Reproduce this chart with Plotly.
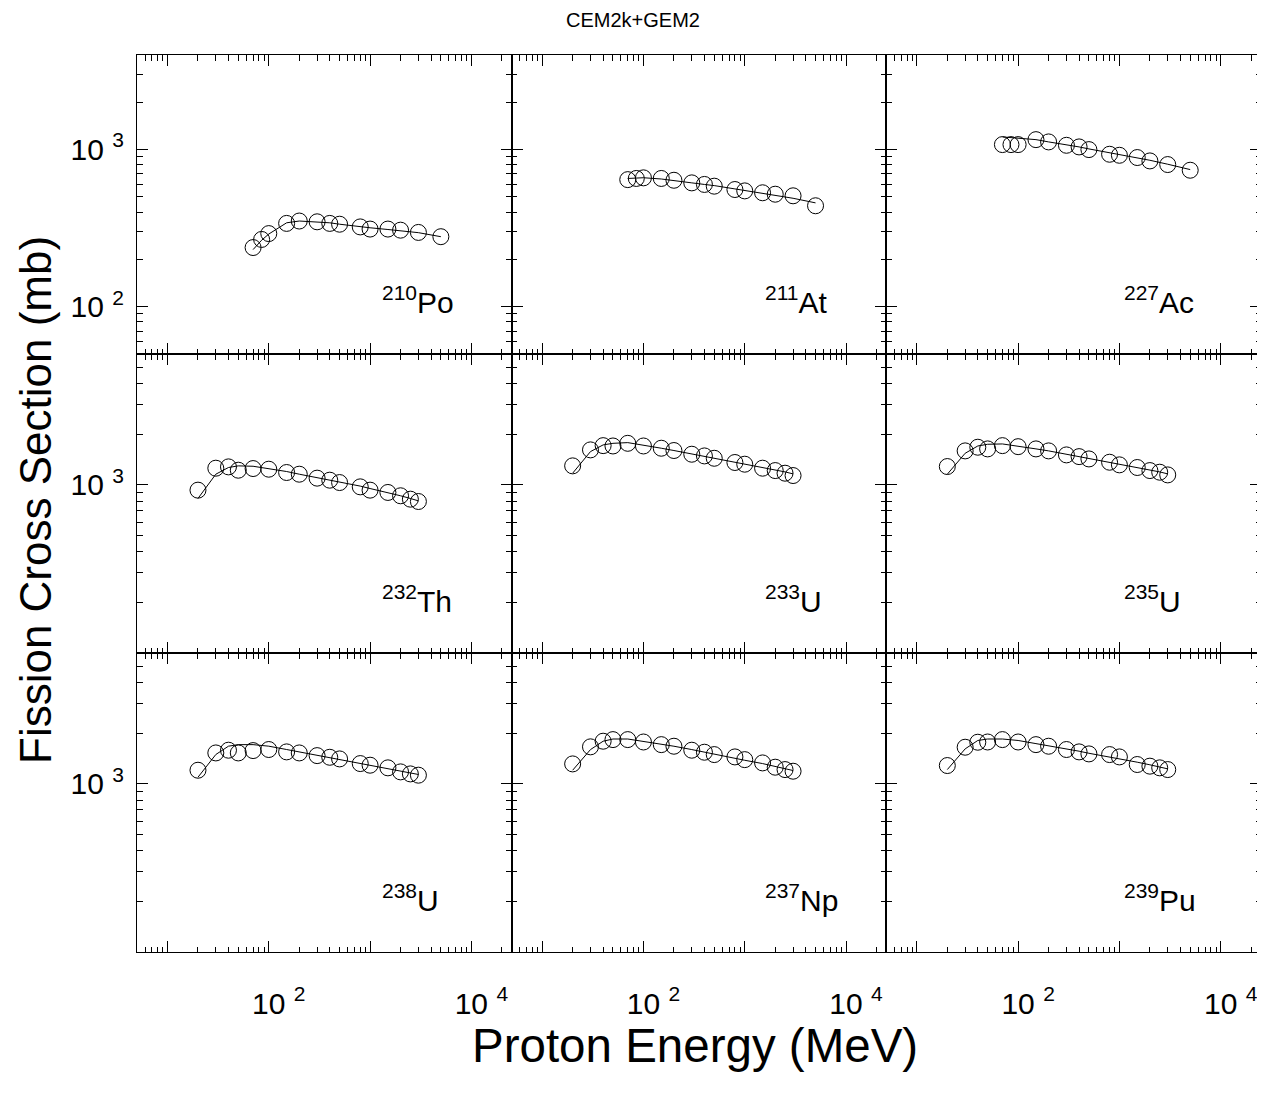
import math
import plotly.graph_objects as go

# ---------------- data ----------------
E_LIGHT = [70, 85, 100, 150, 200, 300, 400, 500, 800, 1000, 1500, 2000, 3000, 5000]
E_HEAVY = [20, 30, 40, 50, 70, 100, 150, 200, 300, 400, 500, 800, 1000, 1500, 2000, 2500, 3000]

po210_pts = [238, 268, 292, 339, 351, 347, 339, 335, 322, 312, 312, 307, 297, 279]
po210_line = [231, 265, 290, 342, 351, 347, 342, 335, 322, 318, 310, 304, 296, 279]

at211_pts = [644, 655, 661, 655, 638, 614, 600, 585, 557, 546, 531, 520, 508, 439]
at211_line = [655, 662, 662, 650, 632, 614, 600, 590, 562, 549, 526, 510, 490, 458]

ac227_pts = [1076, 1076, 1076, 1157, 1119, 1065, 1040, 1000, 934, 920, 890, 847, 803, 739]
ac227_line = [1204, 1195, 1186, 1157, 1119, 1076, 1040, 1010, 957, 929, 885, 855, 807, 746]

th232_pts = [930, 1256, 1279, 1222, 1250, 1239, 1184, 1157, 1096, 1066, 1032, 973, 930, 901, 861, 822, 796]
th232_line = [830, 1157, 1268, 1297, 1290, 1250, 1200, 1157, 1105, 1071, 1041, 983, 951, 901, 861, 830, 803]

u233_pts = [1297, 1614, 1711, 1703, 1766, 1703, 1651, 1600, 1521, 1486, 1439, 1358, 1327, 1256, 1216, 1173, 1136]
u233_line = [1173, 1577, 1728, 1766, 1783, 1728, 1651, 1600, 1527, 1480, 1439, 1369, 1332, 1273, 1228, 1194, 1162]

u235_pts = [1285, 1592, 1674, 1636, 1711, 1687, 1636, 1592, 1507, 1472, 1426, 1363, 1315, 1268, 1216, 1189, 1146]
u235_line = [1157, 1541, 1703, 1743, 1751, 1703, 1636, 1592, 1521, 1472, 1433, 1363, 1327, 1268, 1228, 1194, 1162]

u238_pts = [1205, 1527, 1585, 1527, 1577, 1600, 1549, 1527, 1472, 1439, 1407, 1320, 1291, 1245, 1178, 1146, 1126]
u238_line = [1095, 1494, 1675, 1711, 1711, 1675, 1600, 1549, 1479, 1439, 1394, 1332, 1291, 1233, 1189, 1162, 1137]

np237_pts = [1314, 1660, 1793, 1833, 1833, 1774, 1711, 1674, 1585, 1542, 1493, 1446, 1393, 1332, 1256, 1216, 1189]
np237_line = [1205, 1599, 1793, 1848, 1848, 1793, 1727, 1674, 1599, 1542, 1493, 1420, 1381, 1320, 1273, 1233, 1200]

pu239_pts = [1285, 1651, 1768, 1774, 1833, 1774, 1711, 1674, 1600, 1549, 1507, 1493, 1446, 1303, 1274, 1245, 1216]
pu239_line = [1216, 1614, 1811, 1848, 1848, 1811, 1735, 1687, 1614, 1564, 1520, 1446, 1407, 1345, 1298, 1262, 1228]

panel_labels = ["<sup>210</sup>Po", "<sup>211</sup>At", "<sup>227</sup>Ac",
                "<sup>232</sup>Th", "<sup>233</sup>U", "<sup>235</sup>U",
                "<sup>238</sup>U", "<sup>237</sup>Np", "<sup>239</sup>Pu"]

panels = [
    (E_LIGHT, po210_pts, po210_line),
    (E_LIGHT, at211_pts, at211_line),
    (E_LIGHT, ac227_pts, ac227_line),
    (E_HEAVY, th232_pts, th232_line),
    (E_HEAVY, u233_pts, u233_line),
    (E_HEAVY, u235_pts, u235_line),
    (E_HEAVY, u238_pts, u238_line),
    (E_HEAVY, np237_pts, np237_line),
    (E_HEAVY, pu239_pts, pu239_line),
]

X_RANGE = [5, 25000]
Y_RANGE_TOP = [50, 4000]
Y_RANGE_LOW = [100, 6000]

title_text = "CEM2k+GEM2"
x_title = "Proton Energy (MeV)"
y_title = "Fission Cross Section (mb)"

# ---------------- figure ----------------
FONT = "Liberation Sans, Arial, Helvetica, sans-serif"
W, H = 1257, 1093          # page body has an 8px margin
ML, MR, MT, MB = 129, 4, 47, 149
PW, PH = W - ML - MR, H - MT - MB

fig = go.Figure()

def minor_vals(lo, hi):
    vals = []
    d = 10 ** math.floor(math.log10(lo))
    while d <= hi:
        for k in range(2, 10):
            v = k * d
            if lo <= v <= hi:
                vals.append(v)
        d *= 10
    return vals

x_minor = minor_vals(X_RANGE[0], X_RANGE[1])
label_offsets = [243.5 / 374.7, 251 / 374.7, 236 / 374.7]

annotations = []
for i, (E, pts, line) in enumerate(panels):
    r, c = divmod(i, 3)
    n = i + 1
    xa = "x" if n == 1 else f"x{n}"
    ya = "y" if n == 1 else f"y{n}"
    fig.add_trace(go.Scatter(x=E, y=line, mode="lines", xaxis=xa, yaxis=ya,
                             line=dict(color="black", width=1), showlegend=False))
    fig.add_trace(go.Scatter(x=E, y=pts, mode="markers", xaxis=xa, yaxis=ya,
                             marker=dict(symbol="circle-open", size=16,
                                         line=dict(color="black", width=1), color="black"),
                             showlegend=False))

    yr = Y_RANGE_TOP if r == 0 else Y_RANGE_LOW
    y_major = [100, 1000] if r == 0 else [1000]
    y_minor = minor_vals(yr[0], yr[1])

    xaxis = dict(
        domain=[c / 3, (c + 1) / 3], anchor=ya, type="log",
        range=[math.log10(X_RANGE[0]), math.log10(X_RANGE[1])],
        showline=True, linecolor="black", linewidth=1, mirror="allticks",
        ticks="inside", ticklen=11, tickwidth=1, tickcolor="black",
        tickvals=[10, 100, 1000, 10000],
        ticktext=["", "10 <sup>2</sup>", "", "10 <sup>4</sup>"],
        showticklabels=(r == 2),
        tickfont=dict(family=FONT, size=30, color="black"),
        ticklabelstandoff=25, ticklabelshift=10,
        minor=dict(tickvals=x_minor, ticks="inside", ticklen=5.5,
                   tickwidth=1, tickcolor="black", showgrid=False),
        showgrid=False, zeroline=False, automargin=False,
    )
    yaxis = dict(
        domain=[(2 - r) / 3, (3 - r) / 3], anchor=xa, type="log",
        range=[math.log10(yr[0]), math.log10(yr[1])],
        showline=True, linecolor="black", linewidth=1, mirror="allticks",
        ticks="inside", ticklen=11, tickwidth=1, tickcolor="black",
        tickvals=y_major,
        ticktext=["10 <sup>%d</sup>" % round(math.log10(v)) for v in y_major],
        showticklabels=(c == 0),
        tickfont=dict(family=FONT, size=30, color="black"),
        ticklabelstandoff=6,
        minor=dict(tickvals=y_minor, ticks="inside", ticklen=5.5,
                   tickwidth=1, tickcolor="black", showgrid=False),
        showgrid=False, zeroline=False, automargin=False,
    )
    fig.layout["xaxis" if n == 1 else f"xaxis{n}"] = xaxis
    fig.layout["yaxis" if n == 1 else f"yaxis{n}"] = yaxis

    annotations.append(dict(
        text=panel_labels[i], xref=f"{xa} domain", yref=f"{ya} domain",
        x=label_offsets[c], y=0.11, xanchor="left", yanchor="bottom",
        showarrow=False, font=dict(family=FONT, size=30, color="black")))

annotations.append(dict(text=x_title, xref="paper", yref="paper",
                        x=(687 - ML) / PW, y=-(1037 - (MT + PH)) / PH,
                        xanchor="center", yanchor="middle",
                        showarrow=False, font=dict(family=FONT, size=47.5, color="black")))
annotations.append(dict(text=y_title, xref="paper", yref="paper", textangle=-90,
                        x=(28 - ML) / PW, y=((MT + PH) - 492) / PH,
                        xanchor="center", yanchor="middle",
                        showarrow=False, font=dict(family=FONT, size=44, color="black")))

fig.update_layout(
    width=W, height=H,
    margin=dict(l=ML, r=MR, t=MT, b=MB, autoexpand=False),
    paper_bgcolor="white", plot_bgcolor="white",
    title=dict(text=title_text, x=(625) / W, xref="container", xanchor="center",
               y=1 - 12 / H, yref="container", yanchor="middle",
               font=dict(family=FONT, size=20, color="black")),
    annotations=annotations,
    showlegend=False,
)

fig.write_html("out.html")
